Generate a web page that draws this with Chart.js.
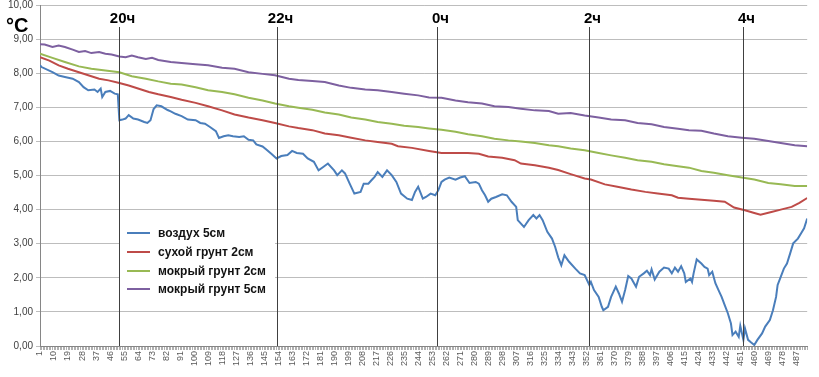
<!DOCTYPE html>
<html>
<head>
<meta charset="utf-8">
<script src="https://cdn.jsdelivr.net/npm/chart.js@4.4.1/dist/chart.umd.min.js"></script>
<style>
  html, body { margin: 0; padding: 0; background: #fff; }
  canvas { display: block; }
</style>
</head>
<body>
<canvas id="chart" width="819" height="377"></canvas>
<script>
// подписи оси X (каждая 9-я точка)
const tickLabels = [1, 10, 19, 28, 37, 46, 55, 64, 73, 82, 91, 100, 109, 118, 127, 136, 145, 154, 163, 172, 181, 190, 199, 208, 217, 226, 235, 244, 253, 262, 271, 280, 289, 298, 307, 316, 325, 334, 343, 352, 361, 370, 379, 388, 397, 406, 415, 424, 433, 442, 451, 460, 469, 478, 487];
const lastPoint = 494;

// отметки времени
const hourLabels = ['20ч', '22ч', '0ч', '2ч', '4ч'];
const hourAt = [52, 153, 256, 354, 453];

const seriesNames = ['воздух 5см', 'сухой грунт 2см', 'мокрый грунт 2см', 'мокрый грунт 5см'];
const seriesColors = ['#4a7ebb', '#be4b48', '#98b954', '#7d60a0'];

// воздух 5см
const airX = [1, 2, 9, 13, 17, 22, 26, 29, 32, 36, 38, 40, 41, 43, 46, 49, 51, 52, 54, 56, 58, 61, 64, 68, 70, 72, 74, 76, 79, 83, 85,
  88, 92, 96, 101, 104, 107, 110, 114, 116, 119, 122, 125, 129, 132, 135, 138, 140, 144, 147, 150, 153, 156, 160, 163, 166,
  170, 173, 177, 180, 183, 186, 190, 192, 195, 197, 200, 203, 207, 209, 212, 214, 216, 218, 221, 224, 227, 230, 233, 237, 240, 242, 244, 247, 249,
  252, 255, 257, 259, 261, 264, 268, 271, 274, 277, 281, 283, 285, 287, 289, 291, 294, 298, 301, 304, 307, 308, 312, 315, 318, 320, 322, 324, 327, 330, 332,
  334, 336, 338, 341, 345, 348, 351, 354, 355, 357, 360, 362, 363, 366, 368, 371, 373, 375, 377, 379, 381, 384, 386, 389, 391, 393, 394, 396, 399, 402, 405, 407, 409, 411, 413, 415, 416,
  419, 420, 421, 423, 426, 428, 430, 431, 433, 435, 437, 439, 441, 443, 445, 446, 448, 450, 451, 453, 454, 456, 458, 460, 462, 465, 467, 470, 472, 474, 475, 477, 479, 481, 483, 485, 488, 490, 492, 494];
const airY = [8.24, 8.18, 8.03, 7.93, 7.89, 7.84, 7.74, 7.59, 7.50, 7.52, 7.45, 7.55, 7.30, 7.45, 7.48, 7.40, 7.38, 6.62, 6.64, 6.67, 6.77, 6.67, 6.64, 6.57, 6.54, 6.62, 6.95, 7.06, 7.03, 6.92, 6.88,
  6.81, 6.74, 6.64, 6.62, 6.54, 6.52, 6.43, 6.30, 6.10, 6.15, 6.18, 6.15, 6.13, 6.15, 6.05, 6.03, 5.91, 5.85, 5.74, 5.62, 5.50, 5.57, 5.60, 5.72, 5.66,
  5.64, 5.50, 5.40, 5.15, 5.25, 5.35, 5.15, 5.01, 5.15, 5.06, 4.76, 4.47, 4.52, 4.76, 4.76, 4.86, 4.96, 5.10, 4.96, 5.15, 5.01, 4.81, 4.47, 4.32, 4.28, 4.52, 4.67, 4.32, 4.37,
  4.47, 4.42, 4.57, 4.81, 4.88, 4.94, 4.88, 4.94, 4.98, 4.78, 4.81, 4.76, 4.57, 4.42, 4.23, 4.32, 4.37, 4.45, 4.42, 4.23, 4.08, 3.69, 3.49, 3.69, 3.84, 3.74, 3.84, 3.69, 3.35, 3.15, 2.91,
  2.60, 2.37, 2.66, 2.47, 2.27, 2.13, 2.08, 1.79, 1.88, 1.64, 1.44, 1.15, 1.05, 1.15, 1.44, 1.74, 1.54, 1.30, 1.64, 2.05, 1.98, 1.74, 2.03, 2.13, 2.21, 2.08, 2.25, 1.95, 2.18, 2.30, 2.27, 2.13, 2.30, 2.18, 2.34, 2.13, 1.88,
  1.98, 1.88, 2.13, 2.54, 2.42, 2.32, 2.27, 2.08, 2.18, 1.84, 1.64, 1.44, 1.20, 0.96, 0.66, 0.32, 0.42, 0.27, 0.59, 0.18, 0.52, 0.18, 0.10, 0.03, 0.18, 0.37, 0.57, 0.76, 1.05, 1.44, 1.79, 2.03, 2.27, 2.42, 2.71, 3.01, 3.15, 3.30, 3.45, 3.74];

// сухой грунт 2см
const dryX = [1, 7, 13, 19, 26, 32, 39, 45, 52, 58, 64, 71, 77, 85, 92, 101, 109, 118, 126, 135, 144, 152, 161, 167,
  176, 184, 193, 201, 210, 218, 227, 231, 240, 251, 259, 268, 276, 283, 289, 298, 306, 310, 319, 328, 334,
  342, 351, 355, 364, 372, 381, 390, 398, 407, 411, 418, 426, 434, 441, 447, 454, 460, 464, 471, 477, 484, 489, 494];
const dryY = [8.47, 8.37, 8.23, 8.13, 8.03, 7.94, 7.84, 7.79, 7.71, 7.64, 7.55, 7.45, 7.38, 7.30, 7.22, 7.13, 7.03, 6.91, 6.79, 6.70, 6.62, 6.54, 6.44, 6.39,
  6.33, 6.23, 6.18, 6.11, 6.03, 5.98, 5.93, 5.86, 5.81, 5.72, 5.66, 5.66, 5.66, 5.64, 5.56, 5.52, 5.45, 5.35, 5.30, 5.23, 5.16,
  5.04, 4.91, 4.88, 4.74, 4.67, 4.59, 4.52, 4.47, 4.42, 4.35, 4.32, 4.29, 4.26, 4.23, 4.06, 3.98, 3.90, 3.85, 3.93, 4.00, 4.08, 4.20, 4.34];

// мокрый грунт 2см
const wet2X = [1, 9, 17, 26, 34, 43, 52, 60, 69, 77, 85, 92, 101, 109, 118, 126, 135, 144, 152, 161, 167,
  176, 184, 193, 201, 210, 218, 227, 235, 244, 251, 259, 268, 276, 285, 293, 302, 310, 319, 328, 334,
  342, 351, 360, 368, 377, 385, 394, 402, 411, 418, 426, 434, 443, 452, 460, 469, 477, 486, 494];
const wet2Y = [8.57, 8.45, 8.33, 8.20, 8.13, 8.08, 8.03, 7.91, 7.84, 7.76, 7.69, 7.67, 7.59, 7.50, 7.45, 7.38, 7.28, 7.20, 7.11, 7.03, 6.99,
  6.93, 6.85, 6.79, 6.70, 6.64, 6.57, 6.52, 6.46, 6.42, 6.38, 6.34, 6.28, 6.21, 6.15, 6.08, 6.03, 6.00, 5.95, 5.89, 5.86,
  5.79, 5.74, 5.66, 5.59, 5.52, 5.45, 5.40, 5.33, 5.27, 5.23, 5.13, 5.08, 5.01, 4.94, 4.88, 4.78, 4.74, 4.69, 4.69];

// мокрый грунт 5см
const wet5X = [1, 4, 9, 13, 17, 22, 26, 30, 34, 39, 43, 47, 52, 56, 60, 64, 69, 73, 77, 81, 85,
  92, 101, 109, 118, 126, 135, 144, 152, 161, 167, 176, 184, 193, 201, 210, 218, 227, 235, 244, 251,
  259, 268, 276, 285, 293, 302, 310, 319, 328, 334, 342, 351, 360, 368, 377, 385, 394, 402, 411, 418,
  426, 434, 443, 452, 460, 469, 477, 486, 494];
const wet5Y = [8.85, 8.84, 8.77, 8.81, 8.77, 8.69, 8.62, 8.65, 8.59, 8.62, 8.57, 8.55, 8.49, 8.47, 8.52, 8.47, 8.42, 8.45, 8.39, 8.36, 8.33,
  8.30, 8.26, 8.23, 8.16, 8.13, 8.03, 7.98, 7.94, 7.84, 7.80, 7.77, 7.74, 7.64, 7.57, 7.52, 7.50, 7.45, 7.40, 7.35, 7.29,
  7.28, 7.20, 7.15, 7.11, 7.03, 7.01, 6.96, 6.91, 6.89, 6.81, 6.83, 6.76, 6.70, 6.64, 6.62, 6.54, 6.50, 6.42, 6.37, 6.33,
  6.31, 6.23, 6.15, 6.11, 6.08, 6.01, 5.95, 5.89, 5.86];

function pairs(xs, ys) {
    return xs.map((x, i) => ({ x: x, y: ys[i] }));
}

const FONT = "'Liberation Sans', Arial, sans-serif";

// легенда, подписи часов, вертикальные линии
const decorPlugin = {
    id: 'decor',
    beforeDatasetsDraw(chart) {
        const ctx = chart.ctx;
        ctx.save();
        ctx.fillStyle = '#ffffff';
        ctx.fillRect(120, 223, 155, 77);
        ctx.restore();
    },
    afterDatasetsDraw(chart) {
        const ctx = chart.ctx;
        const xs = chart.scales.x;
        const area = chart.chartArea;
        ctx.save();
        ctx.strokeStyle = '#404040';
        ctx.lineWidth = 1;
        ctx.fillStyle = '#000';
        ctx.font = 'bold 15px ' + FONT;
        ctx.textAlign = 'center';
        ctx.textBaseline = 'middle';
        hourAt.forEach((h, i) => {
            const px = Math.round(xs.getPixelForValue(h)) + 0.5;
            ctx.beginPath();
            ctx.moveTo(px, 27);
            ctx.lineTo(px, area.bottom);
            ctx.stroke();
            ctx.fillText(hourLabels[i], px + 3, 19);
        });

        ctx.font = 'bold 20px ' + FONT;
        ctx.textAlign = 'left';
        ctx.textBaseline = 'alphabetic';
        ctx.fillText('°C', 6, 32);

        // легенда
        ctx.font = 'bold 12px ' + FONT;
        ctx.textBaseline = 'middle';
        const rowY = [233, 252, 271, 289];
        chart.data.datasets.forEach((ds, i) => {
            ctx.strokeStyle = ds.borderColor;
            ctx.lineWidth = 2;
            ctx.beginPath();
            ctx.moveTo(127, rowY[i]);
            ctx.lineTo(150, rowY[i]);
            ctx.stroke();
            ctx.fillStyle = '#111';
            ctx.fillText(ds.label, 158, rowY[i] + 1);
        });
        ctx.restore();
    }
};

const ctx = document.getElementById('chart');

new Chart(ctx, {
    type: 'line',
    data: {
        datasets: [
            { label: seriesNames[0], data: pairs(airX, airY), borderColor: seriesColors[0] },
            { label: seriesNames[1], data: pairs(dryX, dryY), borderColor: seriesColors[1] },
            { label: seriesNames[2], data: pairs(wet2X, wet2Y), borderColor: seriesColors[2] },
            { label: seriesNames[3], data: pairs(wet5X, wet5Y), borderColor: seriesColors[3] }
        ]
    },
    options: {
        responsive: false,
        animation: false,
        devicePixelRatio: 1,
        layout: { padding: { top: 0, right: 11, left: 0, bottom: 0 } },
        elements: {
            point: { radius: 0 },
            line: { borderWidth: 2, tension: 0, fill: false }
        },
        plugins: {
            legend: { display: false },
            tooltip: { enabled: false }
        },
        scales: {
            x: {
                type: 'linear',
                min: 1,
                max: lastPoint,
                afterBuildTicks: (scale) => {
                    const t = [];
                    for (let v = 1; v <= lastPoint; v++) t.push({ value: v });
                    scale.ticks = t;
                },
                afterFit: (scale) => { scale.height = 31; },
                grid: {
                    drawOnChartArea: false,
                    drawTicks: true,
                    tickLength: 4,
                    color: '#b0b0b0'
                },
                border: { color: '#868686' },
                ticks: {
                    autoSkip: false,
                    minRotation: 90,
                    maxRotation: 90,
                    padding: 1,
                    color: '#595959',
                    font: { family: FONT, size: 9 },
                    callback: (v) => tickLabels.includes(v) ? String(v) : ''
                }
            },
            y: {
                min: 0,
                max: 10,
                afterFit: (scale) => {
                    scale.width = 40;
                    scale.paddingTop = 5;
                    scale.paddingBottom = 0;
                },
                grid: { color: '#bdbdbd', tickLength: 4 },
                border: { color: '#868686' },
                ticks: {
                    stepSize: 1,
                    padding: 3,
                    color: '#404040',
                    font: { family: FONT, size: 10 },
                    callback: (v) => v.toFixed(2).replace('.', ',')
                }
            }
        }
    },
    plugins: [decorPlugin]
});
</script>
</body>
</html>
